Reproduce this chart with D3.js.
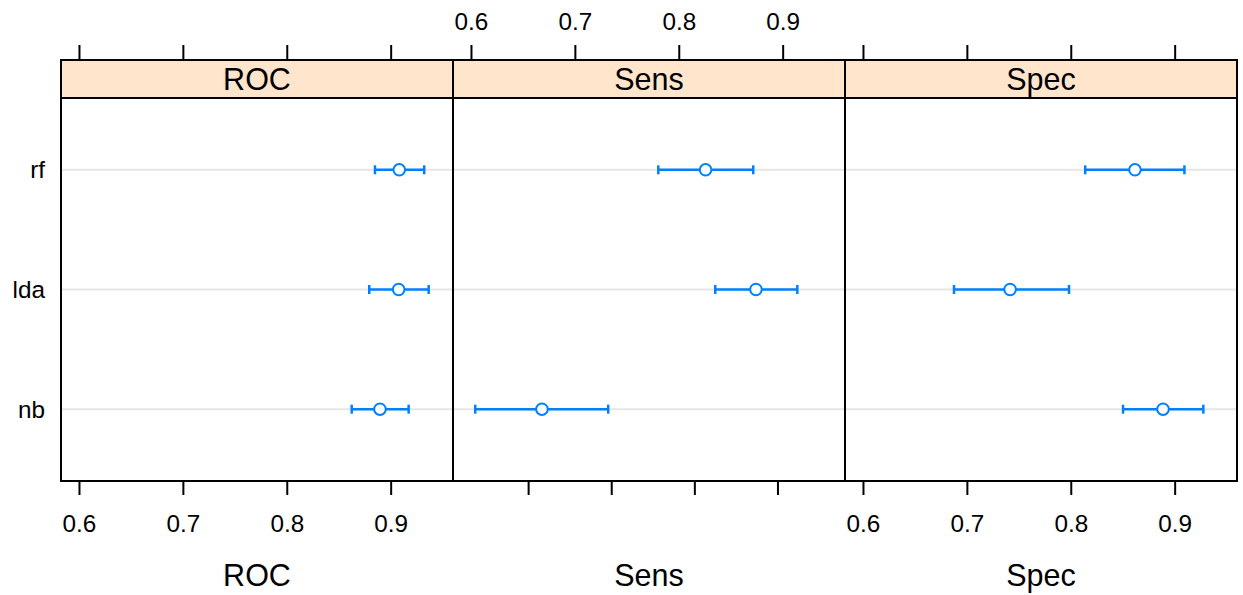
<!DOCTYPE html>
<html><head><meta charset="utf-8">
<script src="https://cdn.jsdelivr.net/npm/d3@7"></script>
<style>body{margin:0;background:#fff}text{font-family:"Liberation Sans",Arial,sans-serif}</style>
</head><body><svg id="c" width="1243" height="595"></svg>
<script>
const models = ["rf", "lda", "nb"];
const metrics = ["ROC", "Sens", "Spec"];
const estimate = {ROC: [0.9083, 0.9077, 0.8897], Sens: [0.8258, 0.8743, 0.6683], Spec: [0.8618, 0.7416, 0.8888]};
const lower    = {ROC: [0.8849, 0.8794, 0.8625], Sens: [0.7803, 0.8351, 0.6041], Spec: [0.8139, 0.6876, 0.8503]};
const upper    = {ROC: [0.9323, 0.9366, 0.9173], Sens: [0.8717, 0.9141, 0.7321], Spec: [0.9094, 0.7983, 0.9276]};
const tickValues = [0.6, 0.7, 0.8, 0.9];
const sensBottomTicks = [0.655, 0.735, 0.815, 0.895];
const xDomain = [0.5827, 0.96];

const svg = d3.select("#c");
const left = 61, right = 1237, stripTop = 60, panelTop = 98, bottom = 481;
const pw = (right - left) / 3;
const blue = "#0080ff";
const tickFont = 24.3, titleFont = 30.5;
const y = d3.scalePoint().domain(models).range([panelTop, bottom]).padding(0.6);

metrics.forEach((m, i) => {
  const x0 = left + i * pw;
  const x = d3.scaleLinear().domain(xDomain).range([x0, x0 + pw]);
  const g = svg.append("g");
  g.append("rect").attr("x", x0).attr("y", stripTop).attr("width", pw).attr("height", panelTop - stripTop)
    .attr("fill", "#ffe5cc").attr("stroke", "#000").attr("stroke-width", 2);
  g.append("text").attr("x", x0 + pw / 2).attr("y", panelTop - 8).attr("text-anchor", "middle")
    .attr("font-size", titleFont).text(m);
  g.selectAll("line.ref").data(models).join("line").attr("class", "ref")
    .attr("x1", x0).attr("x2", x0 + pw).attr("y1", d => y(d)).attr("y2", d => y(d))
    .attr("stroke", "#e6e6e6").attr("stroke-width", 2);
  const rows = models.map((d, j) => ({m: d, e: estimate[m][j], lo: lower[m][j], hi: upper[m][j]}));
  g.selectAll("line.bar").data(rows).join("line").attr("class", "bar")
    .attr("x1", d => x(d.lo)).attr("x2", d => x(d.hi)).attr("y1", d => y(d.m)).attr("y2", d => y(d.m))
    .attr("stroke", blue).attr("stroke-width", 2.5);
  ["lo", "hi"].forEach(k => {
    g.selectAll("line.cap" + k).data(rows).join("line").attr("class", "cap" + k)
      .attr("x1", d => x(d[k])).attr("x2", d => x(d[k])).attr("y1", d => y(d.m) - 4.5).attr("y2", d => y(d.m) + 4.5)
      .attr("stroke", blue).attr("stroke-width", 2.5);
  });
  g.selectAll("circle").data(rows).join("circle")
    .attr("cx", d => x(d.e)).attr("cy", d => y(d.m)).attr("r", 5.8)
    .attr("fill", "#fff").attr("stroke", blue).attr("stroke-width", 2);
  g.append("rect").attr("x", x0).attr("y", panelTop).attr("width", pw).attr("height", bottom - panelTop)
    .attr("fill", "none").attr("stroke", "#000").attr("stroke-width", 2);
  const top = svg.append("g").attr("transform", `translate(0,${stripTop})`)
    .call(d3.axisTop(x).tickValues(tickValues).tickSize(15).tickSizeOuter(0)
      .tickFormat(i === 1 ? d3.format(".1f") : () => ""));
  top.select(".domain").remove();
  top.selectAll(".tick line").attr("stroke", "#000").attr("stroke-width", 2);
  top.selectAll(".tick text").attr("font-size", tickFont).attr("fill", "#000").attr("dy", 0).attr("y", -30)
    .style("font-family", '"Liberation Sans",Arial,sans-serif');
  const bt = svg.append("g").attr("transform", `translate(0,${bottom})`)
    .call(d3.axisBottom(x).tickValues(i === 1 ? sensBottomTicks : tickValues).tickSize(14).tickSizeOuter(0)
      .tickFormat(i === 1 ? () => "" : d3.format(".1f")));
  bt.select(".domain").remove();
  bt.selectAll(".tick line").attr("stroke", "#000").attr("stroke-width", 2);
  bt.selectAll(".tick text").attr("font-size", tickFont).attr("fill", "#000").attr("dy", 0).attr("y", 51)
    .style("font-family", '"Liberation Sans",Arial,sans-serif');
  svg.append("text").attr("x", x0 + pw / 2).attr("y", 586).attr("text-anchor", "middle")
    .attr("font-size", titleFont).text(m);
});

svg.selectAll("text.ylab").data(models).join("text").attr("class", "ylab")
  .attr("x", 45).attr("y", d => y(d) + 8.5).attr("text-anchor", "end").attr("font-size", tickFont).text(d => d);
</script></body></html>
